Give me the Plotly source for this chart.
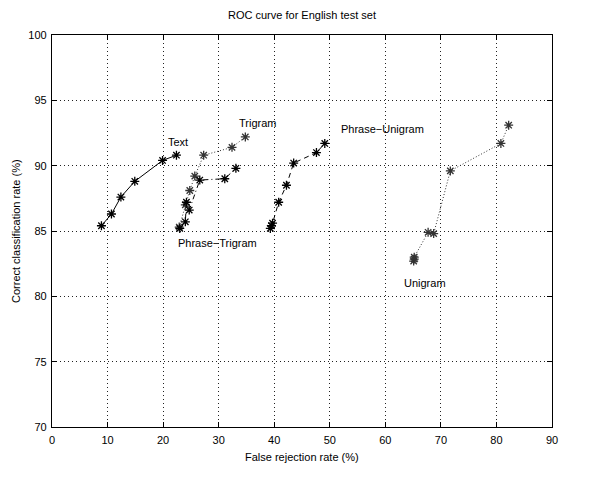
import plotly.graph_objects as go

# ---- data ----
text_x = [8.9, 10.7, 12.4, 14.9, 19.9, 22.4]
text_y = [85.4, 86.3, 87.6, 88.8, 90.4, 90.8]

trigram_x = [22.9, 24.0, 24.8, 25.7, 27.3, 32.4, 34.8]
trigram_y = [85.3, 87.0, 88.1, 89.2, 90.8, 91.4, 92.2]

phrase_trigram_x = [23.0, 24.0, 24.2, 24.7, 26.6, 31.1, 33.1]
phrase_trigram_y = [85.2, 85.7, 87.2, 86.6, 88.9, 89.0, 89.8]

phrase_unigram_x = [39.3, 39.5, 39.7, 40.8, 42.2, 43.5, 47.6, 49.1]
phrase_unigram_y = [85.2, 85.4, 85.6, 87.2, 88.5, 90.2, 91.0, 91.7]

unigram_x = [65.1, 65.2, 65.2, 67.7, 68.7, 71.7, 80.8, 82.2]
unigram_y = [82.7, 82.85, 83.0, 84.9, 84.8, 89.6, 91.7, 93.1]

x_ticks = [0, 10, 20, 30, 40, 50, 60, 70, 80, 90]
y_ticks = [70, 75, 80, 85, 90, 95, 100]

labels = ["Text", "Trigram", "Phrase\u2212Trigram", "Phrase\u2212Unigram", "Unigram"]
label_x = [22.6, 37.0, 29.8, 59.4, 67.1]
label_y = [91.8, 93.25, 84.1, 92.8, 81.0]

title = "ROC curve for English test set"
x_title = "False rejection rate (%)"
y_title = "Correct classification rate (%)"

FONT = "Liberation Sans, Arial, Helvetica, sans-serif"

series = [
    (text_x, text_y, "solid", "black"),
    (trigram_x, trigram_y, "1px,2px", "#333"),
    (phrase_trigram_x, phrase_trigram_y, "5px,3px,1px,3px", "black"),
    (phrase_unigram_x, phrase_unigram_y, "5px,4px", "black"),
    (unigram_x, unigram_y, "1px,2px", "#333"),
]

fig = go.Figure()
for xs, ys, dash, col in series:
    fig.add_trace(go.Scatter(
        x=xs, y=ys, mode="lines+markers",
        line=dict(color=col, width=1, dash=dash),
        marker=dict(symbol="asterisk-open", size=7.5,
                    line=dict(color="black", width=1.3)),
        showlegend=False,
    ))

annotations = []
for t, lx, ly in zip(labels, label_x, label_y):
    annotations.append(dict(x=lx, y=ly, text=t, showarrow=False,
                            xref="x", yref="y",
                            font=dict(family=FONT, size=11, color="black")))
annotations.append(dict(x=0.5, y=1.052, xref="paper", yref="paper", text=title,
                        showarrow=False, xanchor="center", yanchor="middle",
                        font=dict(family=FONT, size=11, color="black")))
annotations.append(dict(x=0.5, y=-0.0765, xref="paper", yref="paper", text=x_title,
                        showarrow=False, xanchor="center", yanchor="middle",
                        font=dict(family=FONT, size=11, color="black")))
annotations.append(dict(x=-0.072, y=0.5, xref="paper", yref="paper", text=y_title,
                        showarrow=False, xanchor="center", yanchor="middle",
                        textangle=-90,
                        font=dict(family=FONT, size=11, color="black")))

axis_common = dict(
    showline=True, linecolor="black", linewidth=1.3, mirror="ticks",
    ticks="inside", ticklen=5, tickwidth=1, tickcolor="black",
    showgrid=True, gridcolor="#222", gridwidth=1, griddash="1px,3px",
    zeroline=False,
    tickfont=dict(family=FONT, size=11, color="black"),
)

fig.update_layout(
    width=589, height=485,
    margin=dict(l=44, r=45, t=27, b=66),
    paper_bgcolor="white", plot_bgcolor="white",
    xaxis=dict(range=[0, 90], tickvals=x_ticks, ticklabelstandoff=3, **axis_common),
    yaxis=dict(range=[70, 100], tickvals=y_ticks, ticklabelstandoff=2, **axis_common),
    annotations=annotations,
    showlegend=False,
)

fig.write_html("out.html")
